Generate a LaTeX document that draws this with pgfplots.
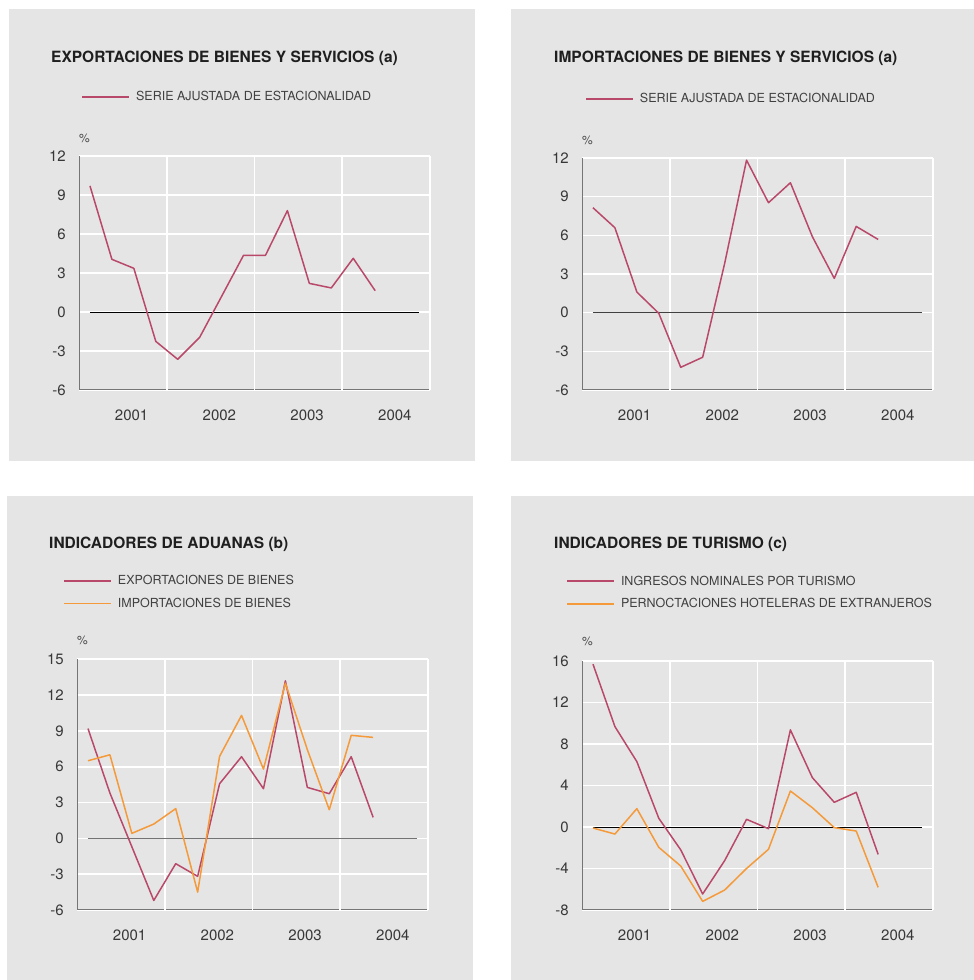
\documentclass[border=0pt]{standalone}
\usepackage{fontspec}
\setmainfont{TeX Gyre Heros}
\usepackage{pgfplots}
\usepackage{pgfplotstable}
\pgfplotsset{compat=1.18}
\definecolor{bg}{HTML}{E5E5E5}
\definecolor{rojo}{HTML}{B9496A}
\definecolor{naranja}{HTML}{F59A3A}
\definecolor{axgray}{HTML}{757575}

\pgfplotstableread{
x y
0.125 9.7
0.375 4.05
0.625 3.36
0.875 -2.26
1.125 -3.64
1.375 -1.95
1.625 1.2
1.875 4.36
2.125 4.36
2.375 7.8
2.625 2.2
2.875 1.85
3.125 4.13
3.375 1.64
}\exportbs
\pgfplotstableread{
x y
0.125 8.14
0.375 6.59
0.625 1.6
0.875 -0.05
1.125 -4.24
1.375 -3.46
1.625 3.8
1.875 11.83
2.125 8.53
2.375 10.08
2.625 5.9
2.875 2.66
3.125 6.69
3.375 5.68
}\importbs
\pgfplotstableread{
x exp imp
0.125 9.2 6.5
0.375 3.8 7.0
0.625 -0.7 0.42
0.875 -5.2 1.2
1.125 -2.12 2.49
1.375 -3.18 -4.5
1.625 4.58 6.87
1.875 6.84 10.3
2.125 4.16 5.8
2.375 13.2 13.0
2.625 4.27 7.43
2.875 3.74 2.4
3.125 6.84 8.63
3.375 1.76 8.46
}\aduanas
\pgfplotstableread{
x ing per
0.125 15.7 -0.1
0.375 9.68 -0.68
0.625 6.3 1.77
0.875 0.84 -1.96
1.125 -2.2 -3.76
1.375 -6.46 -7.17
1.625 -3.25 -6.08
1.875 0.74 -4.0
2.125 -0.16 -2.15
2.375 9.36 3.47
2.625 4.76 1.86
2.875 2.38 -0.06
3.125 3.34 -0.39
3.375 -2.64 -5.82
}\turismo

\pgfplotsset{panel/.style={
  scale only axis, width=351pt,
  xmin=0, xmax=4,
  axis x line*=bottom, axis y line*=left,
  axis line style={axgray, line width=1pt},
  xtick={0.6,1.6,2.6,3.6}, xticklabels={2001,2002,2003,2004},
  extra x ticks={1,2,3,4}, extra x tick labels={},
  extra x tick style={grid=major},
  ymajorgrids, grid style={white, line width=1.6pt},
  major grid style={white, line width=1.6pt},
  major tick length=0pt,
  tick label style={font=\fontsize{15}{15}\selectfont, text=black!78},
  xticklabel style={anchor=north, inner sep=0pt, yshift=-20pt},
  yticklabel style={anchor=east, inner sep=0pt, xshift=-13pt},
  /pgf/number format/assume math mode=true,
  ylabel={\%}, ylabel style={rotate=-90, at={(axis description cs:0,1.077)}, anchor=west, inner sep=0pt, font=\fontsize{12}{12}\selectfont, text=black!70},
  legend style={draw=none, fill=none, inner sep=0pt, font=\fontsize{12.5}{12.5}\selectfont, text=black!75, row sep=8pt, /tikz/every odd column/.append style={column sep=4pt}},
  legend cell align=left,
  legend image code/.code={\draw[#1] (0pt,0pt) -- (47pt,0pt);},
  every axis plot/.append style={line width=1.5pt, line join=round},
}}
\newcommand{\ttl}[1]{\fontsize{15.5}{15.5}\selectfont\bfseries #1}

\begin{document}
\begin{tikzpicture}[x=1pt,y=1pt]
\useasboundingbox (0pt,0pt) rectangle (974pt,980pt);
\fill[white] (0pt,0pt) rectangle (974pt,980pt);
\fill[bg] (9pt,519pt) rectangle (475pt,971pt);
\fill[bg] (511pt,519pt) rectangle (974pt,971pt);
\fill[bg] (7pt,0pt) rectangle (473pt,484pt);
\fill[bg] (511pt,0pt) rectangle (974pt,484pt);

\node[anchor=west, inner sep=0pt, text=black!88] at (51pt,921.5pt) {\ttl{EXPORTACIONES DE BIENES Y SERVICIOS (a)}};
\node[anchor=west, inner sep=0pt, text=black!88] at (554pt,921.5pt) {\ttl{IMPORTACIONES DE BIENES Y SERVICIOS (a)}};
\node[anchor=west, inner sep=0pt, text=black!88] at (49pt,435.5pt) {\ttl{INDICADORES DE ADUANAS (b)}};
\node[anchor=west, inner sep=0pt, text=black!88] at (554pt,435.5pt) {\ttl{INDICADORES DE TURISMO (c)}};

% Panel 1
\begin{axis}[panel, at={(79pt,590pt)}, anchor=south west, height=234pt,
  ymin=-6, ymax=12, ytick={-6,-3,0,3,6,9,12},
  legend style={at={(axis description cs:0.006,1.252)}, anchor=west}]
  \addlegendimage{rojo, line width=1.8pt}
  \addlegendentry{SERIE AJUSTADA DE ESTACIONALIDAD}
  \addplot[black, line width=0.8pt, forget plot] coordinates {(0.125,0) (3.875,0)};
  \addplot[rojo, forget plot] table[x=x,y=y] {\exportbs};
\end{axis}

% Panel 2
\begin{axis}[panel, at={(582pt,590pt)}, anchor=south west, height=232pt,
  ymin=-6, ymax=12, ytick={-6,-3,0,3,6,9,12},
  legend style={at={(axis description cs:0.0085,1.254)}, anchor=west}]
  \addlegendimage{rojo, line width=1.8pt}
  \addlegendentry{SERIE AJUSTADA DE ESTACIONALIDAD}
  \addplot[black!75, line width=1pt, forget plot] coordinates {(0.125,0) (3.875,0)};
  \addplot[rojo, forget plot] table[x=x,y=y] {\importbs};
\end{axis}

% Panel 3
\begin{axis}[panel, at={(77pt,70pt)}, anchor=south west, height=250.7pt,
  ymin=-6, ymax=15, ytick={-6,-3,0,3,6,9,12,15},
  legend style={at={(axis description cs:-0.04,1.268)}, anchor=west}]
  \addlegendimage{rojo, line width=1.8pt}
  \addlegendentry{EXPORTACIONES DE BIENES}
  \addlegendimage{naranja, line width=1.8pt}
  \addlegendentry{IMPORTACIONES DE BIENES}
  \addplot[black!55, line width=1.6pt, forget plot] coordinates {(0.125,0) (3.875,0)};
  \addplot[rojo, forget plot] table[x=x,y=exp] {\aduanas};
  \addplot[naranja, forget plot] table[x=x,y=imp] {\aduanas};
\end{axis}

% Panel 4
\begin{axis}[panel, at={(582pt,70pt)}, anchor=south west, height=249pt,
  ymin=-8, ymax=16, ytick={-8,-4,0,4,8,12,16},
  legend style={at={(axis description cs:-0.0456,1.275)}, anchor=west}]
  \addlegendimage{rojo, line width=1.8pt}
  \addlegendentry{INGRESOS NOMINALES POR TURISMO}
  \addlegendimage{naranja, line width=1.8pt}
  \addlegendentry{PERNOCTACIONES HOTELERAS DE EXTRANJEROS}
  \addplot[black, line width=0.8pt, forget plot] coordinates {(0.125,0) (3.875,0)};
  \addplot[rojo, forget plot] table[x=x,y=ing] {\turismo};
  \addplot[naranja, forget plot] table[x=x,y=per] {\turismo};
\end{axis}
\end{tikzpicture}
\end{document}
